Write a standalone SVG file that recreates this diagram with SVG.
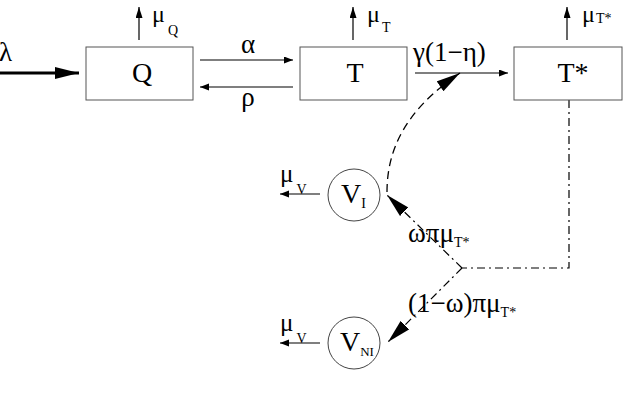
<svg xmlns="http://www.w3.org/2000/svg" width="626" height="403" viewBox="0 0 626 403">
<defs>
<marker id="th" markerUnits="userSpaceOnUse" markerWidth="10" markerHeight="8" refX="9" refY="3.5" orient="auto"><path d="M0,0 L9,3.5 L0,7 z" fill="#000"/></marker>
<marker id="up" markerUnits="userSpaceOnUse" markerWidth="12" markerHeight="8" refX="11" refY="3.5" orient="auto"><path d="M0,0 L11,3.5 L0,7 z" fill="#000"/></marker>
<marker id="bg" markerUnits="userSpaceOnUse" markerWidth="25" markerHeight="13" refX="24" refY="6" orient="auto"><path d="M0,0 L24,6 L0,12 z" fill="#000"/></marker>
</defs>
<g id="connectors" fill="none" stroke="#000" stroke-width="1.2">
<line x1="0" y1="73" x2="79" y2="73" stroke-width="3" marker-end="url(#bg)"/>
<line x1="139" y1="40" x2="139" y2="7" marker-end="url(#up)"/>
<line x1="353" y1="40" x2="353" y2="7" marker-end="url(#up)"/>
<line x1="567" y1="40" x2="567" y2="7" marker-end="url(#up)"/>
<line x1="200" y1="60" x2="293" y2="60" marker-end="url(#th)"/>
<line x1="293" y1="87" x2="200" y2="87" marker-end="url(#th)"/>
<line x1="415" y1="73" x2="508" y2="73" marker-end="url(#th)"/>
<path d="M387,192 C387,150 405,110 460,73" stroke-dasharray="8 5" stroke-width="1.3" marker-end="url(#bg)"/>
<path d="M569,100 V268 H462" stroke-dasharray="8 4 2 4"/>
<path d="M462,268 L387,195" stroke-dasharray="8 4 2 4" marker-end="url(#bg)"/>
<path d="M462,268 L388,342" stroke-dasharray="8 4 2 4" marker-end="url(#bg)"/>
<line x1="320" y1="194" x2="280" y2="194" marker-end="url(#th)"/>
<line x1="320" y1="343" x2="280" y2="343" marker-end="url(#th)"/>
</g>
<g id="labels" font-family="Liberation Serif, DejaVu Serif, serif" font-size="27" fill="#000" stroke="none">
<text x="-1" y="61">λ</text>
<text x="152" y="22" font-size="24">μ<tspan font-size="14" dx="3" dy="13">Q</tspan></text>
<text x="367" y="22" font-size="24">μ<tspan font-size="14" dx="2" dy="10">T</tspan></text>
<text x="582" y="22" font-size="24">μ<tspan font-size="14" dx="1" dy="1">T*</tspan></text>
<text x="248" y="53" text-anchor="middle">α</text>
<text x="248" y="106" text-anchor="middle">ρ</text>
<text x="413" y="61">γ(1−η)</text>
<text x="408" y="242">ωπμ<tspan font-size="14" dy="5">T*</tspan></text>
<text x="408" y="312">(1−ω)πμ<tspan font-size="14" dy="5">T*</tspan></text>
<text x="280" y="182" font-size="25">μ<tspan font-size="14" dx="3" dy="12">V</tspan></text>
<text x="280" y="331" font-size="25">μ<tspan font-size="14" dx="3" dy="12">V</tspan></text>
</g>
<g id="Q"><rect x="86" y="47" width="107" height="53" fill="#fff" stroke="#555"/><text x="142" y="82" text-anchor="middle" font-family="Liberation Serif, DejaVu Serif, serif" font-size="28">Q</text></g>
<g id="T"><rect x="300" y="47" width="107" height="53" fill="#fff" stroke="#555"/><text x="355" y="82" text-anchor="middle" font-family="Liberation Serif, DejaVu Serif, serif" font-size="28">T</text></g>
<g id="Tstar"><rect x="514" y="47" width="108" height="53" fill="#fff" stroke="#555"/><text x="573" y="82" text-anchor="middle" font-family="Liberation Serif, DejaVu Serif, serif" font-size="28">T*</text></g>
<g id="VI"><circle cx="354" cy="195" r="26" fill="#fff" stroke="#444"/><text x="341" y="203" font-family="Liberation Serif, DejaVu Serif, serif" font-size="28">V<tspan font-size="14" dx="0" dy="5">I</tspan></text></g>
<g id="VNI"><circle cx="354" cy="343" r="26" fill="#fff" stroke="#444"/><text x="340" y="351" font-family="Liberation Serif, DejaVu Serif, serif" font-size="28">V<tspan font-size="13" dx="0" dy="5">NI</tspan></text></g>
</svg>
